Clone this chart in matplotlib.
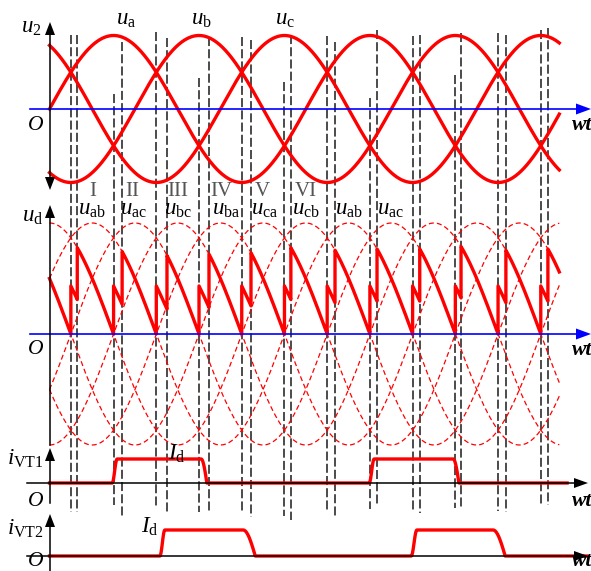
import numpy as np
import matplotlib
matplotlib.use("Agg")
import matplotlib.pyplot as plt
from matplotlib.patches import Polygon

plt.rcParams["font.family"] = "Liberation Serif"
plt.rcParams["mathtext.fontset"] = "custom"
plt.rcParams["mathtext.rm"] = "Liberation Serif"
plt.rcParams["mathtext.it"] = "Liberation Serif:italic"
plt.rcParams["mathtext.bf"] = "Liberation Serif:bold"
plt.rcParams["lines.scale_dashes"] = False

W, H = 591, 571
X0, KX = 49.5, 0.712  # pixel of wt=0 and pixels per degree

# ---- data (angles in degrees) ----
wt_end = 716
natural = [30, 90, 150, 210, 270, 330, 390, 450, 510, 570, 630, 690]
overlap_end = [39, 102, 165, 224, 283, 339, 401, 460, 520, 578, 641, 700]
phase_shift = [0, -120, 120]                      # u_a, u_b, u_c
line_shift = [30, -30, -90, -150, 150, 90]        # six line voltages
vt1_pulses = [(88, 95, 213, 221), (449, 456, 567, 575)]
vt2_pulses = [(155, 162, 272, 289), (508, 516, 623, 640)]
vt1_end, vt2_end = 727, 755
Id = 1.0

phase_labels = [r"$u_{\mathrm{a}}$", r"$u_{\mathrm{b}}$", r"$u_{\mathrm{c}}$"]
roman = ["I", "II", "III", "IV", "V", "VI"]
seg_labels = [r"$u_{\mathrm{ab}}$", r"$u_{\mathrm{ac}}$", r"$u_{\mathrm{bc}}$",
              r"$u_{\mathrm{ba}}$", r"$u_{\mathrm{ca}}$", r"$u_{\mathrm{cb}}$",
              r"$u_{\mathrm{ab}}$", r"$u_{\mathrm{ac}}$"]

# extents of the dashed commutation lines (pixels)
top1 = [35, 94, 32, 78, 37, 82, 36, 98, 36, 75, 33, 30]
top2 = [35, 42, 38, 37, 40, 35, 42, 30, 35, 33, 35, 28]
bot1 = [512, 505, 508, 512, 513, 516, 512, 509, 512, 508, 511, 506]
bot2 = [512, 518, 512, 513, 517, 520, 518, 506, 513, 509, 512, 505]

RED = "#ff0000"
BLUE = "#0000ff"

fig = plt.figure(figsize=(W / 100, H / 100), dpi=100)
XLIM = (-X0 / KX, (W - X0) / KX)


def panel(zero_px, px_per_unit):
    ax = fig.add_axes([0, 0, 1, 1])
    ax.set_xlim(*XLIM)
    ax.set_ylim(-(H - zero_px) / px_per_unit, zero_px / px_per_unit)
    ax.axis("off")
    return ax


def arrow(ax, x, y, dx, dy, color, L=14, hw=5):
    px, py = -dy, dx
    pts = [(x, y), (x - dx * L + px * hw, y - dy * L + py * hw),
           (x - dx * L - px * hw, y - dy * L - py * hw)]
    ax.add_patch(Polygon(pts, closed=True, facecolor=color, edgecolor="none"))


# dashed vertical lines
axv = fig.add_axes([0, 0, 1, 1])
axv.set_xlim(*XLIM)
axv.set_ylim(H, 0)
axv.axis("off")
axv.vlines(natural, top1, bot1, colors="#1a1a1a", lw=1.1,
           linestyles=(0, (6.5, 2.3)))
axv.vlines(overlap_end, top2, bot2, colors="#1a1a1a", lw=1.1,
           linestyles=(0, (6.5, 2.3)))

wt = np.linspace(0, wt_end, 3000)
rad = np.deg2rad

# phase voltages
ax1 = panel(109, 73.5)
for s in phase_shift:
    ax1.plot(wt, np.sin(rad(wt + s)), color=RED, lw=2.4)

# rectified voltage
ax2 = panel(334, 111 / np.sqrt(3))
for s in line_shift:
    ax2.plot(wt, np.sqrt(3) * np.sin(rad(wt + s)), color=RED, lw=0.9,
             dashes=(3.6, 2.2))

ud_x, ud_y = [], []
t = np.linspace(0, natural[0], 60)
ud_x.append(t)
ud_y.append(np.sqrt(3) * np.sin(rad(natural[0] - t)))
for k, (tk, ek) in enumerate(zip(natural, overlap_end)):
    tn = tk + 60
    t = np.linspace(tk, ek, 30)
    ud_x.append(t)
    ud_y.append(np.sqrt(3) * 0.5 * (np.sin(rad(tk - t)) + np.sin(rad(tn - t))))
    t = np.linspace(ek, min(tn, wt_end), 120)
    ud_x.append(t)
    ud_y.append(np.sqrt(3) * np.sin(rad(tn - t)))
ax2.plot(np.concatenate(ud_x), np.concatenate(ud_y), color=RED, lw=2.4)


def current(pulses, end):
    xs, ys = [0.0], [0.0]
    for r0, r1, f0, f1 in pulses:
        s = np.linspace(0, 1, 20)
        xs += [r0] + list(r0 + (r1 - r0) * s)
        ys += [0] + list(Id * 0.5 * (1 - np.cos(np.pi * s)))
        xs += list(f0 + (f1 - f0) * s)
        ys += list(Id * np.cos(0.5 * np.pi * s))
    xs.append(end)
    ys.append(0)
    return xs, ys


ax3 = panel(483, 24)
ax3.plot(*current(vt1_pulses, vt1_end), color=RED, lw=2.4)
ax4 = panel(556, 26)
ax4.plot(*current(vt2_pulses, vt2_end), color=RED, lw=2.4)

# axes, arrows and labels (pixel space)
ov = fig.add_axes([0, 0, 1, 1])
ov.set_xlim(0, W)
ov.set_ylim(H, 0)
ov.axis("off")

ov.plot([30, 580], [109, 109], color=BLUE, lw=1.2)
arrow(ov, 591, 109, 1, 0, BLUE, L=15, hw=5.5)
ov.plot([30, 580], [334, 334], color=BLUE, lw=1.2)
arrow(ov, 591, 334, 1, 0, BLUE, L=15, hw=5.5)
ov.plot([27, 577], [483, 483], color="black", lw=1.1)
arrow(ov, 588, 483, 1, 0, "black", L=14, hw=5)
ov.plot([27, 577], [556, 556], color="black", lw=1.1)
arrow(ov, 588, 556, 1, 0, "black", L=14, hw=5)

ov.plot([50, 50], [180, 32], color="black", lw=1.1)
arrow(ov, 50, 22, 0, -1, "black", L=13, hw=5)
arrow(ov, 50, 190, 0, 1, "black", L=13, hw=5)
ov.plot([50, 50], [445, 215], color="black", lw=1.1)
arrow(ov, 50, 205, 0, -1, "black", L=13, hw=5)
ov.plot([50, 50], [503, 458], color="black", lw=1.1)
arrow(ov, 50, 448, 0, -1, "black", L=13, hw=5)
ov.plot([50, 50], [571, 524], color="black", lw=1.1)
arrow(ov, 50, 514, 0, -1, "black", L=13, hw=5)

FS = 16.5
ov.text(31, 33, r"$u_2$", fontsize=FS, ha="center", va="baseline")
for lab, x in zip(phase_labels, [126, 201, 285]):
    ov.text(x, 25, lab, fontsize=FS, ha="center", va="baseline")
for lab, x in zip(roman, [92.5, 132.5, 177.5, 221, 262.5, 306]):
    ov.text(x, 191, lab, fontsize=15, ha="center", va="center", color="#555555")
ov.text(33, 222, r"$u_{\mathrm{d}}$", fontsize=FS, ha="center", va="baseline")
for lab, x in zip(seg_labels, [92, 134, 178, 226, 265, 306, 349, 391]):
    ov.text(x, 215, lab, fontsize=FS, ha="center", va="baseline")
ov.text(25, 465, r"$i_{\mathrm{VT1}}$", fontsize=FS, ha="center", va="baseline")
ov.text(177, 460, r"$I_{\mathrm{d}}$", fontsize=FS, ha="center", va="baseline")
ov.text(25, 535, r"$i_{\mathrm{VT2}}$", fontsize=FS, ha="center", va="baseline")
ov.text(150, 533, r"$I_{\mathrm{d}}$", fontsize=FS, ha="center", va="baseline")

for y in [125, 350, 501]:
    ov.text(36, y, "O", fontsize=15.5, fontstyle="italic", ha="center", va="center")
    ov.text(572, y, "wt", fontsize=15.5, fontstyle="italic", fontweight="bold",
            ha="left", va="center")
# bottom row sits at the lower edge
ov.text(36, 571, "O", fontsize=15.5, fontstyle="italic", ha="center", va="bottom")
ov.text(572, 571, "wt", fontsize=15.5, fontstyle="italic", fontweight="bold",
        ha="left", va="bottom")

fig.savefig("out.png", dpi=100)
